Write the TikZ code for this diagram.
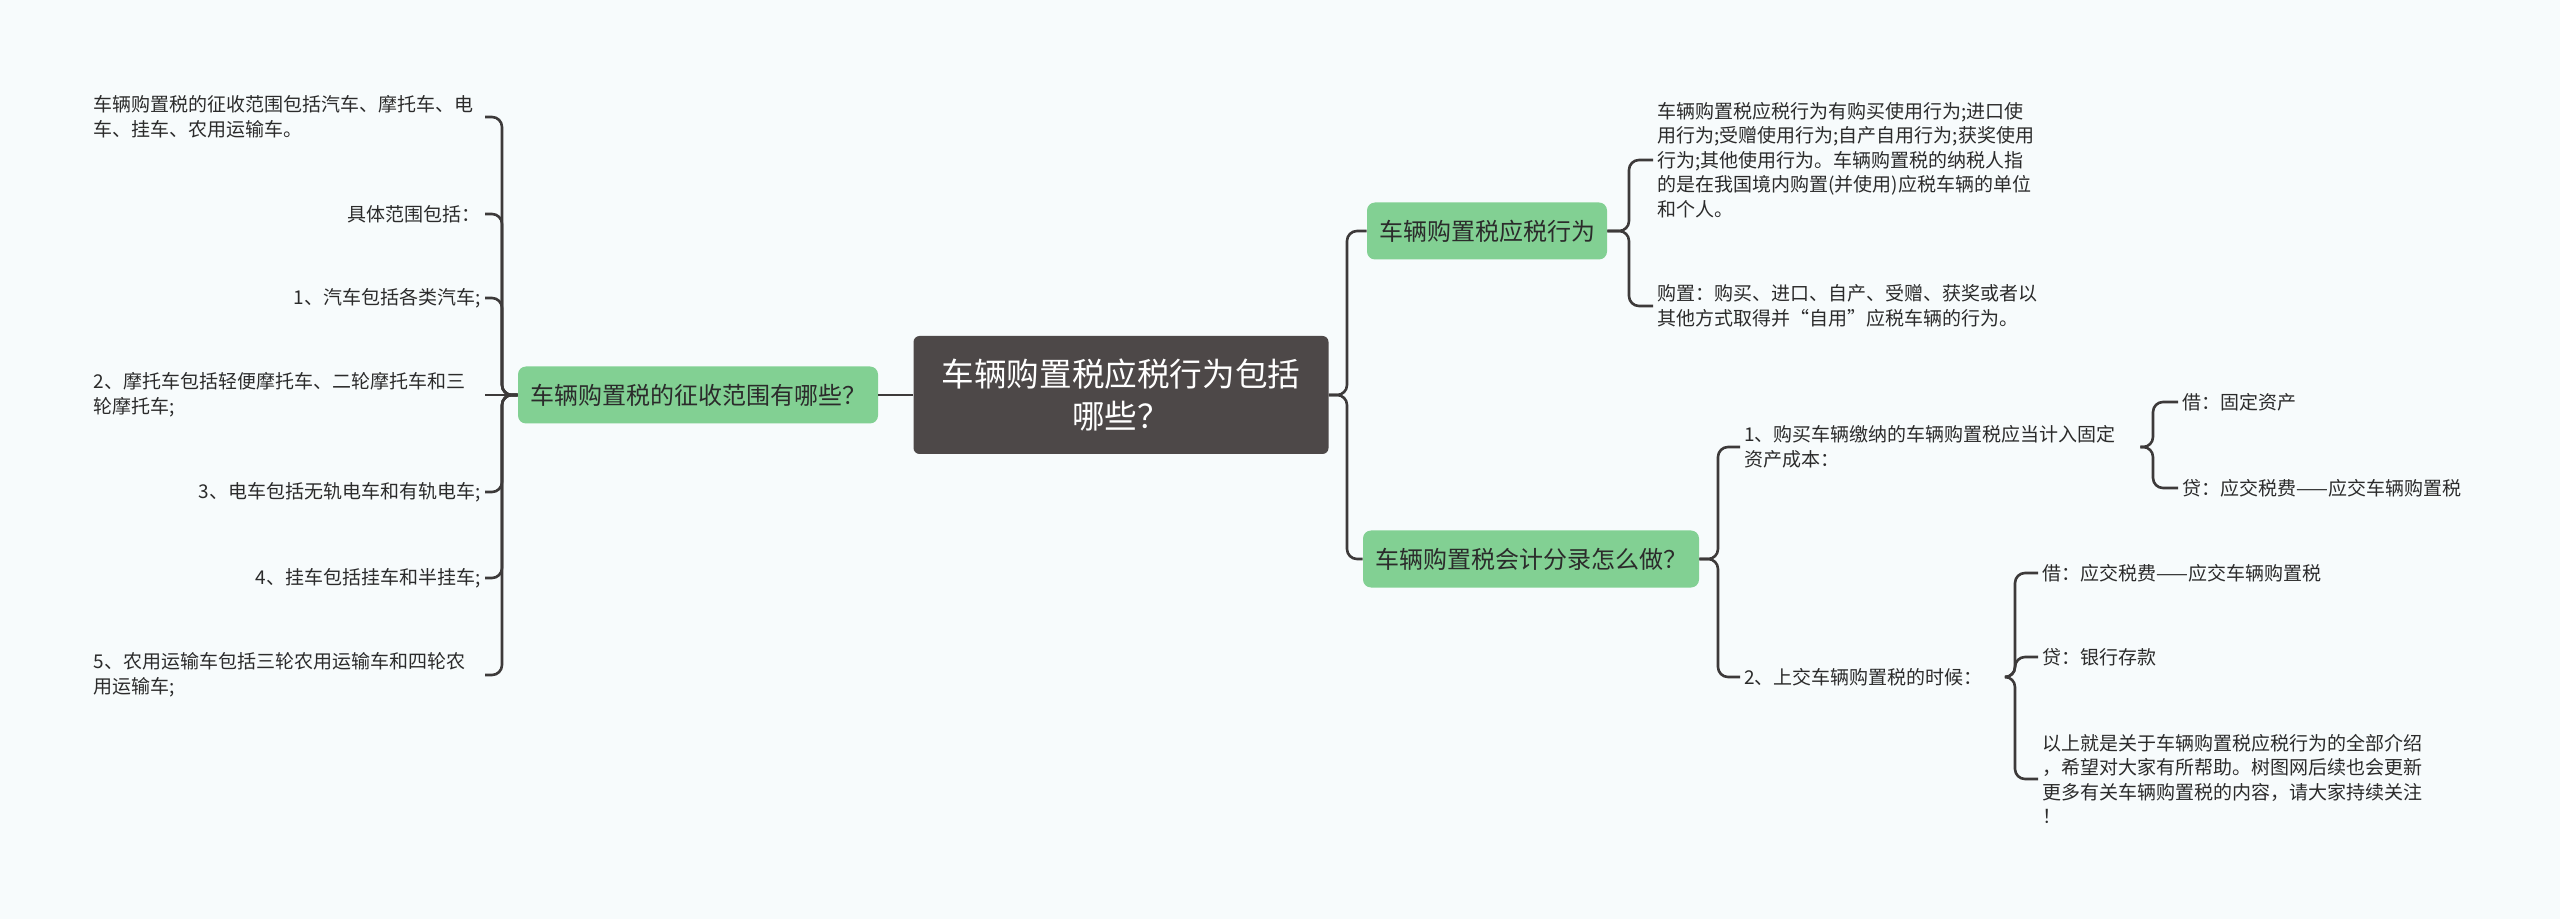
\documentclass[tikz,border=0pt]{standalone}
\usepackage{fontspec}
\newfontfamily\cjk{Noto Sans CJK SC}
\definecolor{bgcol}{HTML}{F7FBFC}
\definecolor{rootcol}{HTML}{4D4848}
\definecolor{topiccol}{HTML}{82D093}
\definecolor{linecol}{HTML}{3D3A3A}
\definecolor{txtcol}{HTML}{2B2B2B}
\begin{document}
\begin{tikzpicture}[x=0.5pt,y=-0.5pt,every node/.style={inner xsep=2pt, inner ysep=1pt, text=txtcol},
  rootbox/.style={fill=rootcol, text=white, rounded corners=3pt, minimum width=207.5pt, minimum height=59pt, align=center, font=\cjk\fontsize{16.3}{21}\selectfont},
  topic/.style={fill=topiccol, rounded corners=4pt, minimum height=28.5pt, inner xsep=6pt, font=\cjk\fontsize{12}{14}\selectfont},
  leaf/.style={align=left, font=\cjk\fontsize{9.5}{12.3}\selectfont},
  wideleaf/.style={leaf, text width=193.5pt},
  link/.style={draw=linecol, line width=1.3pt, rounded corners=5pt}]
\fill[bgcol] (0,0) rectangle (2560,919);
\useasboundingbox (0,0) rectangle (2560,919);
% centre and main topics
\node[rootbox] (root) at (1121,395) {车辆购置税应税行为包括\\哪些？};
\node[topic] (scope) at (698,395) {车辆购置税的征收范围有哪些？};
\node[topic] (act) at (1487,231) {车辆购置税应税行为};
\node[topic] (acct) at (1531,559) {车辆购置税会计分录怎么做？};
% left: scope
\node[wideleaf,anchor=east] (sc1) at (485,117) {车辆购置税的征收范围包括汽车、摩托车、电\\车、挂车、农用运输车。};
\node[leaf,anchor=east] (sc2) at (485,214) {具体范围包括：};
\node[leaf,anchor=east] (sc3) at (485,298) {1、汽车包括各类汽车;};
\node[wideleaf,anchor=east] (sc4) at (485,395) {2、摩托车包括轻便摩托车、二轮摩托车和三\\轮摩托车;};
\node[leaf,anchor=east] (sc5) at (485,492) {3、电车包括无轨电车和有轨电车;};
\node[leaf,anchor=east] (sc6) at (485,578) {4、挂车包括挂车和半挂车;};
\node[wideleaf,anchor=east] (sc7) at (485,675) {5、农用运输车包括三轮农用运输车和四轮农\\用运输车;};
% right: act
\node[leaf,anchor=west] (act1) at (1653,160) {车辆购置税应税行为有购买使用行为;进口使\\用行为;受赠使用行为;自产自用行为;获奖使用\\行为;其他使用行为。车辆购置税的纳税人指\\的是在我国境内购置(并使用)应税车辆的单位\\和个人。};
\node[leaf,anchor=west] (act2) at (1653,306) {购置：购买、进口、自产、受赠、获奖或者以\\其他方式取得并“自用”应税车辆的行为。};
% right: acct
\node[leaf,anchor=west] (acct1) at (1740,447) {1、购买车辆缴纳的车辆购置税应当计入固定\\资产成本：};
\node[leaf,anchor=west] (acct2) at (1740,677) {2、上交车辆购置税的时候：};
\node[leaf,anchor=west] (dr1) at (2178,402) {借：固定资产};
\node[leaf,anchor=west] (cr1) at (2178,488) {贷：应交税费——应交车辆购置税};
\node[leaf,anchor=west] (dr2) at (2038,573) {借：应交税费——应交车辆购置税};
\node[leaf,anchor=west] (cr2) at (2038,657) {贷：银行存款};
\node[leaf,anchor=west] (note) at (2038,779) {以上就是关于车辆购置税应税行为的全部介绍\\，希望对大家有所帮助。树图网后续也会更新\\更多有关车辆购置税的内容，请大家持续关注\\！};
% connectors
\draw[link] (root.west) -- (scope.east);
\foreach \i in {1,2,3,5,6,7} \draw[link] (scope.west) -- (502,395) |- (sc\i.east);
\draw[link] (scope.west) -- (sc4.east);
\foreach \n in {act,acct} \draw[link] (root.east) -- (1347,395) |- (\n.west);
\foreach \n in {act1,act2} \draw[link] (act.east) -- (1629,231) |- (\n.west);
\foreach \n in {acct1,acct2} \draw[link] (acct.east) -- (1718,559) |- (\n.west);
\foreach \n in {dr1,cr1} \draw[link] ([xshift=10pt]acct1.east) -- (2153,447) |- (\n.west);
\foreach \n in {dr2,cr2,note} \draw[link] ([xshift=9pt]acct2.east) -- (2015,677) |- (\n.west);
\end{tikzpicture}
\end{document}
